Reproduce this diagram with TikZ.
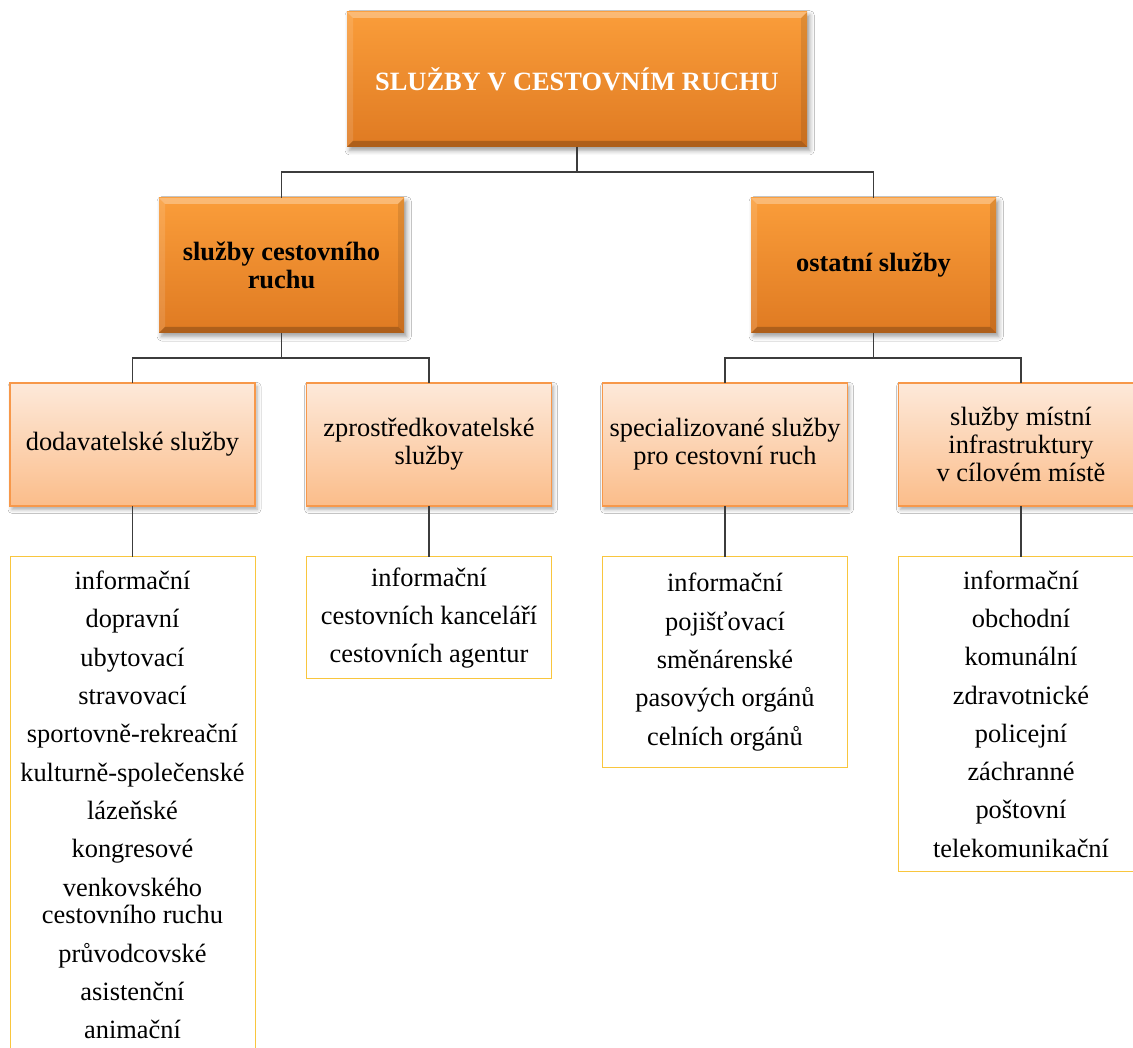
\documentclass[tikz,border=0pt]{standalone}
\usepackage{fontspec}
\setmainfont{Liberation Serif}
\usetikzlibrary{shadows.blur,calc}
\definecolor{orTop}{HTML}{FA9D3A}
\definecolor{orBot}{HTML}{DF7A22}
\definecolor{peachTop}{HTML}{FDE9DA}
\definecolor{peachBot}{HTML}{FBBD8A}
\definecolor{peachLine}{HTML}{F7984A}
\definecolor{listLine}{HTML}{F9C63E}
\definecolor{connCol}{HTML}{3C3C3C}
\begin{document}
\begin{tikzpicture}[x=0.75pt,y=-0.75pt,
  txt/.style={font=\fontsize{19.8pt}{20.85pt}\selectfont, align=center, inner sep=0pt, outer sep=0pt},
  bevel/.style={path picture={
    \coordinate (pNW) at (path picture bounding box.north west);
    \coordinate (pNE) at (path picture bounding box.north east);
    \coordinate (pSW) at (path picture bounding box.south west);
    \coordinate (pSE) at (path picture bounding box.south east);
    \fill[white,opacity=0.30] (pNW) -- (pNE) -- ([shift={(-4.5pt,-4.5pt)}]pNE) -- ([shift={(4.5pt,-4.5pt)}]pNW) -- cycle;
    \fill[white,opacity=0.12] (pNW) -- ([shift={(4.5pt,-4.5pt)}]pNW) -- ([shift={(4.5pt,4.5pt)}]pSW) -- (pSW) -- cycle;
    \fill[black,opacity=0.10] (pNE) -- ([shift={(-4.5pt,-4.5pt)}]pNE) -- ([shift={(-4.5pt,4.5pt)}]pSE) -- (pSE) -- cycle;
    \fill[black,opacity=0.22] (pSW) -- ([shift={(4.5pt,4.5pt)}]pSW) -- ([shift={(-4.5pt,4.5pt)}]pSE) -- (pSE) -- cycle;
  }},
  mainbox/.style={txt, font=\fontsize{19.8pt}{20.85pt}\selectfont\bfseries,
    minimum width={245*0.75pt}, minimum height={135*0.75pt},
    top color=orTop, bottom color=orBot, draw=none,
    blur shadow={shadow xshift=2pt, shadow yshift=-2.5pt, shadow blur radius=3.5pt, shadow opacity=40},
    bevel},
  subbox/.style={txt, minimum width={245*0.75pt}, minimum height={123*0.75pt},
    top color=peachTop, bottom color=peachBot, draw=peachLine, line width=1.1pt,
    blur shadow={shadow xshift=1.5pt, shadow yshift=-2.5pt, shadow blur radius=3pt, shadow opacity=35}},
  listbox/.style={txt, minimum width={245*0.75pt}, fill=white, draw=listLine, line width=0.75pt},
  conn/.style={draw=connCol, line width=0.8pt}
]
\useasboundingbox (0,0) rectangle (1133,1048);
\clip (0,0) rectangle (1133,1048);
\fill[white] (0,0) rectangle (1133,1048);

% level 1
\node[mainbox, minimum width={460*0.75pt}, text=white] (top) at (577,79.5) {SLUŽBY V CESTOVNÍM RUCHU};

% level 2
\node[mainbox] (sc) at (281.5,265.5) {služby cestovního\\ruchu};
\node[mainbox] (os) at (873.5,265.5) {ostatní služby};

% level 3
\node[subbox] (dod) at (132.5,444.5) {dodavatelské služby};
\node[subbox] (zpr) at (429,444.5) {zprostředkovatelské\\služby};
\node[subbox] (spe) at (725,444.5) {specializované služby\\pro cestovní ruch};
\node[subbox] (mis) at (1021,444.5) {služby místní\\infrastruktury\\v cílovém místě};

% lists
\node[listbox, minimum height={496*0.75pt}, anchor=north] (l1) at (132.5,557) {informační\\[7.9pt]dopravní\\[7.9pt]ubytovací\\[7.9pt]stravovací\\[7.9pt]sportovně-rekreační\\[7.9pt]kulturně-společenské\\[7.9pt]lázeňské\\[7.9pt]kongresové\\[7.9pt]venkovského\\cestovního ruchu\\[7.9pt]průvodcovské\\[7.9pt]asistenční\\[7.9pt]animační};
\node[listbox, minimum height={122*0.75pt}, anchor=north] (l2) at (429,557) {informační\\[7.9pt]cestovních kanceláří\\[7.9pt]cestovních agentur};
\node[listbox, minimum height={210*0.75pt}, anchor=north] (l3) at (725,557) {informační\\[7.9pt]pojišťovací\\[7.9pt]směnárenské\\[7.9pt]pasových orgánů\\[7.9pt]celních orgánů};
\node[listbox, minimum height={314*0.75pt}, anchor=north] (l4) at (1021,557) {informační\\[7.9pt]obchodní\\[7.9pt]komunální\\[7.9pt]zdravotnické\\[7.9pt]policejní\\[7.9pt]záchranné\\[7.9pt]poštovní\\[7.9pt]telekomunikační};

% connectors
\draw[conn] (top.south) -- ++(0,25) -| (sc.north);
\draw[conn] (top.south) -- ++(0,25) -| (os.north);
\draw[conn] (sc.south) -- ++(0,25) -| (dod.north);
\draw[conn] (sc.south) -- ++(0,25) -| (zpr.north);
\draw[conn] (os.south) -- ++(0,25) -| (spe.north);
\draw[conn] (os.south) -- ++(0,25) -| (mis.north);
\draw[conn] (dod.south) -- (l1.north);
\draw[conn] (zpr.south) -- (l2.north);
\draw[conn] (spe.south) -- (l3.north);
\draw[conn] (mis.south) -- (l4.north);
\end{tikzpicture}
\end{document}
